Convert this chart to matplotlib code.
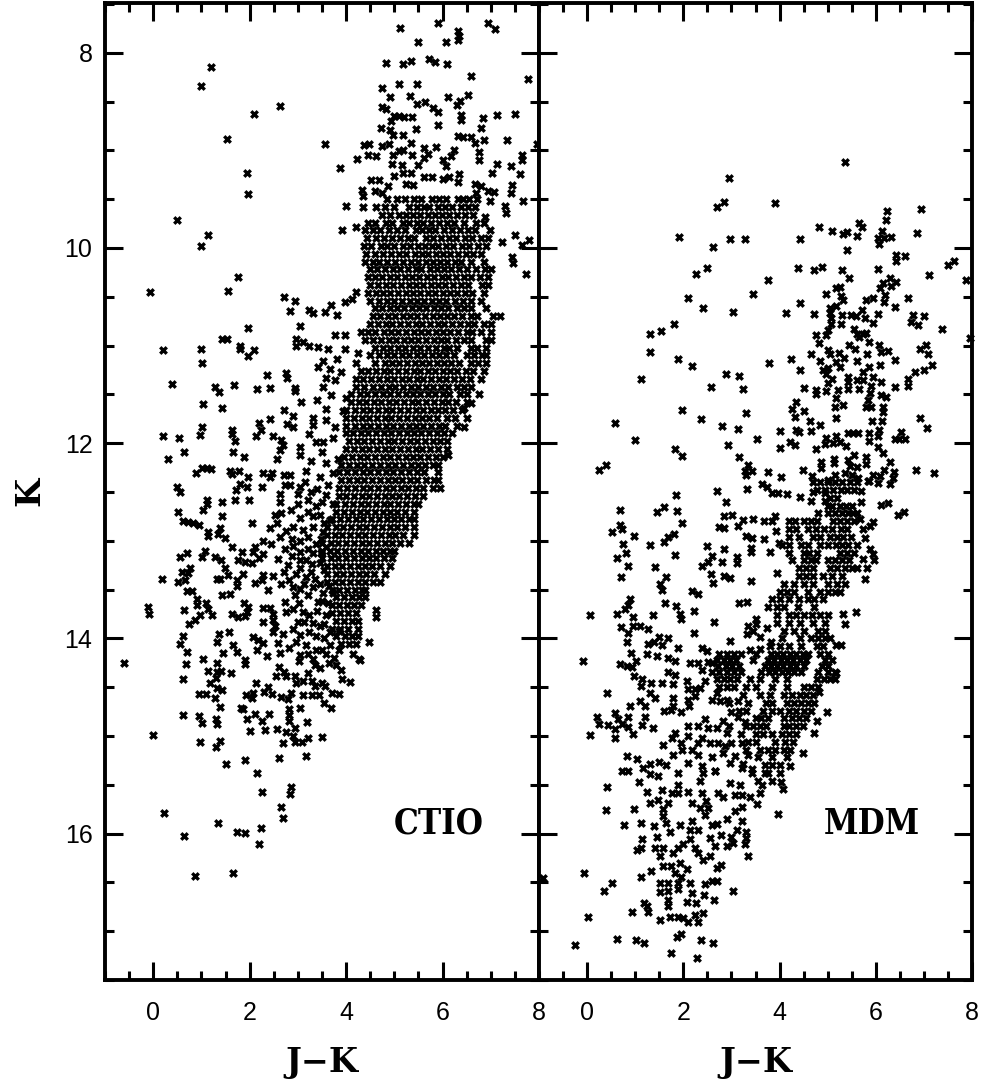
import matplotlib
matplotlib.use("Agg")
import matplotlib.pyplot as plt
from matplotlib.ticker import MultipleLocator

plt.rcParams['font.family'] = ['Liberation Sans', 'DejaVu Sans']

#scattered stars, J-K and K
ctio_upper = [(1.20,8.15),(.99,8.34),(2.63,8.55),(2.08,8.63),(1.52,8.88),(3.57,8.93),(1.94,9.23),(1.96,9.45),(3.88,9.18),(.50,9.71),
(1.13,9.87),(1.0,9.98),(4.0,9.57),(3.92,9.82),(4.2,9.78),(1.75,10.30),(1.56,10.44),(-.06,10.45),(2.71,10.50),(2.93,10.54),(2.84,10.65),
(3.23,10.64),(3.31,10.67),(3.56,10.66),(3.68,10.58),(3.81,10.69),(3.97,10.55),(4.12,10.52),(4.21,10.45),(3.04,10.80),(1.96,10.82),
(5.12,7.75),(5.90,7.70),(6.31,7.78),(6.34,7.83),(6.31,7.87),(6.95,7.69),(7.08,7.76),(5.50,7.89),(6.07,7.89),(4.83,8.10),(5.19,8.11),
(5.34,8.08),(5.71,8.06),(5.84,8.09),(6.09,8.12),(6.58,8.24),(7.78,8.27),(4.74,8.36),(4.90,8.45),(5.09,8.32),(5.46,8.32),(5.33,8.44),
(5.46,8.52),(5.63,8.50),(6.12,8.45),(6.52,8.43),(6.36,8.49),(6.29,8.54),(4.74,8.56),(4.83,8.58),(5.0,8.65),(5.10,8.65),(5.21,8.66),
(5.36,8.66),(5.81,8.57),(5.91,8.61),(6.38,8.64),(6.38,8.69),(6.84,8.67),(7.12,8.64),(7.5,8.63),(4.93,8.70),(4.72,8.77),(4.90,8.79),
(4.97,8.84),(5.19,8.84),(5.45,8.78),(5.90,8.74),(6.79,8.77),(6.31,8.85),(6.43,8.86),(6.60,8.86),(6.67,8.92),(6.86,8.89),(7.34,8.89),
(7.96,8.93),(4.37,8.94),(4.48,8.93),(4.75,8.96),(4.88,8.93),(5.34,8.92),(5.86,8.97),(6.76,9.02),(6.76,9.10),(7.65,9.05),(7.65,9.10),
(4.45,9.05),(4.61,9.06),(4.22,9.09),(4.97,9.05),(5.10,9.01),(5.19,9.0),(5.36,9.05),(5.62,8.98),(5.69,9.04),(5.62,9.08),(6.24,9.0),
(6.17,9.06),(6.0,9.10),(6.07,9.16),(4.95,9.14),(5.16,9.15),(5.50,9.15),(7.12,9.14),(7.42,9.16),(5.0,9.26),(5.17,9.23),(5.34,9.23),
(5.62,9.27),(5.79,9.27),(6.0,9.29),(6.14,9.27),(6.34,9.24),(6.31,9.32),(7.02,9.23),(7.60,9.24),(4.52,9.30),(4.68,9.30),(4.87,9.36),
(5.24,9.34),(5.38,9.35),(4.33,9.41),(4.59,9.42),(4.75,9.44),(6.67,9.34),(6.79,9.37),(6.69,9.44),(6.95,9.42),(7.07,9.43),(7.44,9.35),
(7.42,9.44),(7.67,9.52),(6.98,9.52),(7.29,9.57),(7.32,9.64),(4.36,9.47),(4.36,9.58),(6.87,9.68),(7.51,9.87),(7.79,9.92),(7.64,9.97),
(7.24,9.94),(7.44,10.09),(7.47,10.15),(7.73,10.27)]

ctio_left = [(.20,11.05),(.99,11.04),(1.01,11.18),(1.42,10.93),(1.54,10.93),(1.80,11.0),(1.80,11.04),(2.09,11.05),(1.97,11.11),(2.35,11.30),
(2.75,11.28),(2.77,11.33),(.38,11.39),(1.29,11.42),(1.36,11.48),(1.67,11.40),(2.16,11.44),(2.42,11.43),(2.93,11.43),(2.93,11.47),
(3.06,11.58),(1.04,11.60),(1.43,11.64),(3.40,11.56),(2.71,11.66),(2.90,11.72),(2.42,11.75),(2.20,11.79),(2.24,11.87),(2.78,11.80),
(2.89,11.83),(2.13,11.93),(1.01,11.83),(.97,11.92),(.21,11.93),(.54,11.95),(1.63,11.86),(1.63,11.91),(1.69,11.98),(2.49,11.93),
(2.66,11.97),(2.69,12.02),(2.62,12.07),(2.56,12.16),(.64,12.09),(1.66,12.09),(1.89,12.14),(.30,12.16),(1.01,12.25),(1.11,12.25),
(1.19,12.26),(.88,12.31),(1.59,12.28),(1.63,12.32),(1.78,12.29),(1.97,12.35),(2.28,12.31),(2.47,12.31),(2.42,12.35),(2.71,12.33),
(2.84,12.33),(2.73,12.43),(2.84,12.43),(1.80,12.42),(1.94,12.45),(1.71,12.48),(2.25,12.45),(.49,12.45),(.56,12.50),(1.11,12.58),
(1.11,12.62),(1.04,12.68),(1.43,12.60),(1.69,12.58),(1.98,12.58),(.52,12.70),(1.42,12.75),(.61,12.80),(.73,12.81),(.83,12.82),
(.94,12.84),(2.04,12.82),(1.14,12.91),(1.14,12.95),(1.38,12.87),(1.35,12.93),(1.49,12.97),(1.63,13.06),(2.28,13.0),(2.45,13.03),
(2.11,13.06),(2.07,13.11),(1.84,13.11),(1.08,13.10),(1.01,13.17),(.71,13.13),(.56,13.17),(1.28,13.17),(1.40,13.2),(1.75,13.2),
(1.91,13.22),(2.04,13.23),(2.20,13.18),(2.28,13.14),(2.59,13.19),(.76,13.28),(.59,13.32),(.73,13.33),(1.49,13.28),(1.38,13.39),
(1.56,13.35),(1.32,13.39),(1.87,13.34),(1.73,13.40),(1.73,13.46),(.18,13.39),(.51,13.42),(.66,13.40),(.71,13.51),(.80,13.51),
(1.42,13.56),(1.60,13.55),(2.28,13.35),(2.11,13.43),(2.25,13.40),(2.49,13.36),(2.64,13.44),(2.38,13.50),(.90,13.60),(.90,13.66),
(1.10,13.64),(1.14,13.70),(1.21,13.76),(.97,13.76),(.87,13.81),(.75,13.85),(.64,13.71),(-.11,13.68),(-.09,13.75),(1.63,13.75),
(1.76,13.78),(1.90,13.77),(1.88,13.64),(1.97,13.68),(1.94,13.73),(2.28,13.69),(2.42,13.69),(2.49,13.75),(2.28,13.83),(2.49,13.81),
(2.52,13.87),(2.49,13.93),(1.58,13.93),(.61,13.98),(.56,14.06),(1.36,13.95),(1.33,14.04),(2.06,13.99),(2.18,14.02),(2.28,14.05),
(2.16,14.12),(1.66,14.07),(1.74,14.14),(1.45,14.15),(.71,14.14),(1.04,14.21),(1.90,14.22),(2.36,14.18),(2.62,14.15),(2.69,13.95),
(2.59,14.05),(4.48,14.04),(6.76,11.50),(6.58,11.59),(6.45,11.64),(6.45,11.83),(6.12,12.12),(4.62,13.71),(4.61,13.78)]

ctio_middle = [(2.97,11.0),(3.11,10.96),(3.24,11.0),(3.42,11.01),(3.62,11.03),(2.97,10.93),(3.52,11.16),(3.42,11.22),(3.66,11.24),(3.59,11.33),
(3.82,11.14),(3.97,11.03),(3.76,10.89),(3.97,10.89),(4.24,11.08),(4.21,11.18),(3.90,11.27),(3.76,11.35),(3.52,11.42),(3.69,11.51),
(4.0,11.54),(3.59,11.65),(3.93,11.67),(3.31,11.74),(3.59,11.76),(3.76,11.83),(3.31,11.81),(3.24,11.91),(3.72,11.95),(3.38,11.99),
(3.52,11.99),(3.04,12.04),(3.04,12.12),(3.51,12.09),(3.28,12.18),(3.59,12.20),(3.83,12.16),(3.17,12.28),(3.73,12.31),(3.45,12.35),
(3.04,12.45),(3.0,12.52),(3.28,12.50),(3.59,12.53),(2.62,12.52),(2.62,12.60),(3.0,12.62),(3.38,12.64),(3.73,12.62),(2.52,12.74),
(2.66,12.72),(3.04,12.77),(3.21,12.70),(3.45,12.74),(3.66,12.79),(2.42,12.87),(2.56,12.82),(2.90,12.86),(3.11,12.89),(3.31,12.86),
(3.52,12.91),(2.62,12.96),(2.87,12.98),(3.04,13.0),(3.38,13.03),(3.59,13.06),(2.73,13.08),(3.04,13.11),(3.31,13.13),(3.04,13.2),
(2.80,13.25),(3.17,13.2),(3.45,13.23),(2.97,13.34),(3.17,13.37),(3.35,13.39),(2.90,13.47),(3.04,13.49),(3.31,13.47),(3.52,13.54),
(3.73,13.54),(3.42,13.63),(3.62,13.64),(2.73,13.63),(3.02,13.64),(2.76,13.73),(3.11,13.73),(3.24,13.76),(3.0,13.83),(2.90,13.90),
(3.24,13.93),(3.45,13.87),(3.66,13.93),(3.86,13.92),(2.97,14.04),(3.17,14.07),(3.38,14.12),(3.66,14.07),(3.04,14.17),(3.31,14.21),
(3.59,14.16),(3.86,14.12),(4.14,14.16),(4.27,14.21),
(3.15,12.4),(3.4,12.47),(3.62,12.43),(3.2,12.58),(3.5,12.6),(2.85,12.68),(3.32,12.75),(3.55,12.82),(2.75,12.9),(3.2,12.96),(3.48,12.98),
(2.9,13.05),(3.2,13.08),(3.48,13.12),(2.88,13.16),(3.3,13.24),(3.55,13.3),(2.72,13.32),(3.05,13.28),(3.28,13.32),(2.82,13.4),(3.12,13.44),
(3.45,13.44),(3.65,13.46),(2.95,13.56),(3.2,13.56),(3.5,13.62),(2.9,13.7),(3.4,13.72),(3.58,13.76),(3.12,13.83),(3.32,13.84),(3.55,13.85),
(3.05,13.97),(3.38,13.98),(3.55,14.0),(2.82,14.1),(3.5,14.12),(3.22,14.16),(3.75,14.2)]

ctio_lower = [(-.61,14.25),(.61,14.42),(.68,14.26),(1.14,14.33),(1.32,14.25),(1.32,14.34),(1.41,14.33),(1.62,14.35),(1.91,14.26),(1.18,14.46),
(1.31,14.41),(1.32,14.51),(1.43,14.53),(.94,14.57),(1.09,14.57),(1.29,14.61),(1.39,14.70),(.62,14.79),(.95,14.80),(1.02,14.87),
(1.31,14.83),(1.32,14.88),(-.01,14.99),(.98,15.06),(1.39,15.05),(1.31,15.11),(1.5,15.29),(1.91,15.25),(2.15,15.38),(2.25,15.57),
(2.86,15.52),(2.83,15.59),(2.64,15.73),(2.7,15.84),(.23,15.79),(1.34,15.89),(.63,16.02),(1.74,15.98),(1.91,15.99),(2.24,15.94),
(2.19,16.11),(.86,16.43),(1.66,16.40),(1.81,14.71),(1.86,14.72),(1.95,14.83),(2.01,14.95),(2.12,14.77),(2.25,14.85),(2.32,14.94),
(2.41,14.77),(2.56,14.93),(2.75,14.96),(2.70,15.07),(2.61,15.23),(3.16,15.21),(2.81,14.72),(2.81,14.78),(2.81,14.85),(2.93,14.92),
(2.89,15.0),(2.93,15.06),(3.09,15.06),(3.22,15.02),(3.5,15.01),(3.05,14.71),(3.18,14.86),(3.68,14.71),(3.54,14.66),(1.93,14.58),
(2.07,14.56),(2.04,14.61),(2.14,14.46),(2.29,14.55),(2.39,14.50),(2.46,14.57),(2.64,14.60),(2.79,14.62),(2.86,14.56),(3.11,14.58),
(3.29,14.58),(3.43,14.58),(3.71,14.56),(3.86,14.57),(2.93,14.39),(2.96,14.46),(3.11,14.44),(3.21,14.35),(3.29,14.44),(3.36,14.49),
(3.5,14.46),(3.57,14.49),(3.91,14.42),(4.09,14.45),(3.89,14.32),(3.79,14.27),(3.64,14.25),(3.46,14.30),(3.36,14.27),(2.61,14.29),
(2.71,14.34),(2.75,14.39),(2.54,14.39),(4.29,14.22),(3.02,14.23)]

#the black core of the CTIO branch, one K value with the J-K values read along it
ctio_core = [
(9.50,[4.85,5.05,5.22,5.41,5.55,5.78,5.93,6.08,6.33,6.42,6.55,6.72]),
(9.58,[4.62,4.8,5.0,5.3,5.46,5.62,5.71,5.9,6.05,6.2,6.38,6.52,6.68]),
(9.66,[4.75,4.9,5.1,5.24,5.39,5.53,5.69,5.85,5.98,6.14,6.29,6.47,6.63]),
(9.74,[4.46,4.6,4.82,4.95,5.17,5.31,5.48,5.6,5.77,5.92,6.09,6.24,6.44,6.7,6.85]),
(9.82,[4.4,4.55,4.7,4.88,5.06,5.22,5.44,5.57,5.72,5.84,6.02,6.2,6.37,6.52,6.68,6.98]),
(9.90,[4.44,4.62,4.78,4.95,5.12,5.28,5.4,5.66,5.8,5.96,6.13,6.28,6.46,6.62,6.8,6.95]),
(9.98,[4.38,4.52,4.72,4.85,5.0,5.18,5.33,5.5,5.63,5.78,5.91,6.08,6.22,6.41,6.55,6.73,6.9]),
(10.06,[4.42,4.6,4.76,4.93,5.1,5.25,5.42,5.58,5.7,5.86,6.0,6.16,6.33,6.48,6.64,6.8]),
(10.14,[4.4,4.56,4.68,4.84,5.02,5.17,5.35,5.49,5.65,5.8,5.94,6.1,6.25,6.39,6.58,6.85]),
(10.22,[4.5,4.65,4.8,4.97,5.12,5.28,5.44,5.56,5.73,5.88,6.04,6.18,6.35,6.5,6.7,6.88,7.0]),
(10.30,[4.45,4.6,4.74,4.9,5.06,5.22,5.37,5.52,5.68,5.83,5.98,6.12,6.28,6.44,6.6,6.78,6.95]),
(10.38,[4.5,4.66,4.82,4.98,5.14,5.3,5.45,5.6,5.76,5.9,6.06,6.22,6.38,6.53,6.82,6.95]),
(10.46,[4.45,4.62,4.76,4.92,5.08,5.24,5.39,5.54,5.7,5.84,6.0,6.15,6.3,6.47,6.62,6.85]),
(10.54,[4.5,4.68,4.84,5.0,5.16,5.32,5.47,5.62,5.78,5.92,6.08,6.26,6.42,6.58,6.8]),
(10.62,[4.6,4.74,4.9,5.05,5.2,5.36,5.52,5.66,5.82,5.97,6.12,6.29,6.45,6.6,6.9]),
(10.70,[4.55,4.7,4.86,5.02,5.18,5.33,5.48,5.64,5.8,5.94,6.1,6.24,6.4,6.58,6.72,7.05,7.2]),
(10.78,[4.5,4.66,4.82,4.96,5.12,5.28,5.44,5.58,5.74,5.9,6.04,6.2,6.36,6.52,6.66,6.85,7.0]),
(10.86,[4.3,4.45,4.6,4.78,4.93,5.08,5.24,5.4,5.55,5.7,5.86,6.0,6.16,6.32,6.5,6.62,6.8,7.0]),
(10.94,[4.4,4.56,4.72,4.88,5.04,5.2,5.35,5.5,5.66,5.82,5.96,6.1,6.28,6.44,6.6,6.9,7.0]),
(11.02,[4.6,4.76,4.92,5.08,5.22,5.38,5.54,5.7,5.86,6.02,6.14,6.3,6.58,6.72,6.9]),
(11.10,[4.5,4.68,4.84,5.0,5.16,5.3,5.46,5.62,5.78,5.92,6.08,6.24,6.5,6.66,6.82,6.9]),
(11.18,[4.6,4.8,4.95,5.1,5.26,5.42,5.58,5.72,5.88,6.04,6.18,6.34,6.6,6.74,6.9]),
(11.26,[4.3,4.46,4.62,4.78,4.92,5.08,5.24,5.4,5.54,5.7,5.85,6.0,6.16,6.3,6.48,6.64,6.85]),
(11.34,[4.2,4.36,4.52,4.68,4.84,5.0,5.16,5.3,5.46,5.6,5.76,5.92,6.08,6.24,6.4,6.56,6.8]),
(11.42,[4.2,4.38,4.56,4.72,4.88,5.02,5.18,5.34,5.5,5.66,5.8,5.96,6.12,6.3,6.45,6.6]),
(11.50,[4.1,4.28,4.44,4.6,4.76,4.92,5.08,5.24,5.38,5.54,5.7,5.84,6.0,6.14,6.36,6.5]),
(11.58,[4.1,4.26,4.42,4.58,4.72,4.88,5.04,5.2,5.36,5.5,5.66,5.82,5.98,6.12,6.28,6.5]),
(11.66,[4.0,4.18,4.34,4.5,4.66,4.82,4.96,5.12,5.28,5.44,5.6,5.76,5.9,6.06,6.22,6.4]),
(11.74,[4.0,4.16,4.32,4.48,4.64,4.8,4.94,5.1,5.26,5.42,5.58,5.72,5.88,6.1,6.26,6.5]),
(11.82,[4.0,4.18,4.34,4.5,4.66,4.82,4.98,5.14,5.3,5.44,5.6,5.76,5.92,6.06,6.3]),
(11.90,[4.0,4.14,4.3,4.46,4.62,4.78,4.94,5.1,5.26,5.4,5.56,5.72,5.88,6.04,6.2]),
(11.98,[4.05,4.22,4.38,4.54,4.7,4.86,5.0,5.16,5.32,5.48,5.64,5.8,5.94,6.1]),
(12.06,[4.0,4.16,4.32,4.48,4.64,4.8,4.96,5.12,5.28,5.44,5.58,5.74,5.9,6.1]),
(12.14,[3.95,4.12,4.28,4.44,4.6,4.76,4.92,5.08,5.24,5.38,5.54,5.7,5.86,6.0]),
(12.22,[3.9,4.06,4.22,4.38,4.54,4.7,4.86,5.02,5.18,5.34,5.5,5.64,5.8,5.9]),
(12.30,[3.85,4.02,4.18,4.34,4.5,4.66,4.82,4.98,5.14,5.3,5.46,5.62,5.9]),
(12.38,[3.9,4.06,4.22,4.38,4.54,4.7,4.86,5.02,5.16,5.32,5.48,5.66,5.82,5.9]),
(12.46,[3.85,4.02,4.18,4.34,4.5,4.66,4.82,4.98,5.14,5.28,5.44,5.6,5.8,5.95]),
(12.54,[3.85,4.0,4.16,4.32,4.48,4.64,4.8,4.96,5.1,5.26,5.42,5.6]),
(12.62,[3.8,3.98,4.14,4.3,4.46,4.62,4.78,4.92,5.08,5.24,5.4,5.5]),
(12.70,[3.8,3.96,4.12,4.28,4.44,4.6,4.76,4.92,5.06,5.22,5.4]),
(12.78,[3.7,3.88,4.04,4.2,4.36,4.52,4.68,4.84,5.0,5.14,5.3,5.4]),
(12.86,[3.6,3.78,3.94,4.1,4.26,4.42,4.58,4.74,4.9,5.06,5.22,5.4]),
(12.94,[3.6,3.76,3.92,4.08,4.24,4.4,4.56,4.72,4.88,5.02,5.18,5.4]),
(13.02,[3.5,3.68,3.84,4.0,4.16,4.32,4.48,4.64,4.8,4.96,5.12,5.3]),
(13.10,[3.5,3.66,3.82,3.98,4.14,4.3,4.46,4.62,4.76,4.9,5.0]),
(13.18,[3.5,3.68,3.84,4.0,4.16,4.32,4.48,4.62,4.78,4.95]),
(13.26,[3.6,3.76,3.92,4.08,4.24,4.4,4.54,4.7,4.9]),
(13.34,[3.6,3.78,3.94,4.1,4.26,4.42,4.58,4.8]),
(13.42,[3.6,3.76,3.92,4.08,4.24,4.4,4.56,4.7]),
(13.50,[3.7,3.86,4.02,4.18,4.32,4.4]),
(13.58,[3.8,3.96,4.12,4.26,4.4]),
(13.66,[3.7,3.86,4.02,4.16,4.3]),
(13.74,[3.7,3.88,4.04,4.2]),
(13.82,[3.8,3.96,4.12,4.25]),
(13.90,[3.7,3.88,4.04,4.25]),
(13.98,[3.8,3.98,4.12,4.25]),
(14.06,[3.9,4.06,4.2])]

#scattered stars of the MDM panel
mdm_upper = [(5.37,9.12),(2.95,9.28),(2.85,9.53),(2.71,9.58),(3.91,9.54),(6.93,9.60),(6.23,9.62),(6.21,9.71),(5.65,9.74),(5.72,9.79),(4.81,9.79),
(5.10,9.83),(5.32,9.86),(5.40,9.84),(5.62,9.88),(6.13,9.83),(6.04,9.90),(6.07,9.96),(6.18,9.90),(6.32,9.89),(6.85,9.85),(1.91,9.89),
(2.98,9.91),(3.28,9.91),(4.42,9.91),(2.61,9.99),(5.40,10.02),(6.42,10.07),(6.60,10.08),(6.41,10.13),(2.50,10.21),(2.26,10.27),(4.38,10.20),
(4.72,10.23),(4.88,10.19),(5.30,10.23),(6.04,10.22),(7.50,10.17),(7.63,10.13),(7.10,10.28),(7.87,10.33),(3.76,10.33),(5.44,10.31),(3.44,10.47),
(2.09,10.51),(2.41,10.62),(3.04,10.66),(4.42,10.56),(4.14,10.67),(4.72,10.68),(6.29,10.31),(6.41,10.35),(6.15,10.36),(6.31,10.39),(6.08,10.41),
(6.20,10.48),(6.18,10.55),(5.94,10.51),(5.80,10.53),(6.68,10.51),(6.40,10.60),(5.25,10.40),(5.18,10.41),(4.96,10.47),(5.28,10.49),(5.32,10.53),
(5.18,10.59),(5.04,10.62),(5.04,10.67),(5.06,10.72),(5.30,10.69),(5.49,10.69),(5.58,10.70),(5.71,10.64),(5.78,10.72),(6.04,10.68),(5.95,10.77),
(6.77,10.69),(6.74,10.76),(6.87,10.79),(7.0,10.70),(7.38,10.83),(7.95,10.92),(1.81,10.78),(1.54,10.85),(1.31,10.88),(1.30,11.07),(1.89,11.14),
(2.19,11.21),(1.12,11.34),(2.57,11.42),(2.88,11.29),(3.15,11.31),(3.25,11.44),(3.78,11.18),(4.23,11.14),(4.42,11.25),(4.65,11.09),(4.50,11.43),
(4.76,11.45),(4.76,11.50),(4.97,11.47),(4.84,11.16),(5.06,10.78),(5.0,10.84),(4.97,10.89),(4.76,10.89),(4.83,10.97),(5.27,10.78),(5.55,10.83),
(5.60,10.88),(5.66,10.91),(5.80,10.87),(5.73,10.88),(5.86,10.96),(6.07,10.99),(5.44,10.99),(5.56,11.03),(5.01,11.05),(5.04,11.09),(5.23,11.08),
(5.18,11.17),(5.34,11.13),(5.25,11.22),(5.60,11.16),(5.82,11.09),(6.11,11.07),(6.25,11.06),(6.39,11.15),(6.08,11.20),(5.86,11.22),(5.73,11.27),
(6.92,11.04),(7.05,10.99),(7.08,11.09),(7.16,11.20),(7.0,11.25),(6.82,11.27),(6.67,11.34),(6.68,11.41),(6.39,11.42),(4.90,11.25),(5.01,11.23),
(4.97,11.29),(5.08,11.34),(5.01,11.38),(5.42,11.32),(5.42,11.37),(5.42,11.44),(5.60,11.35),(5.66,11.44),(5.73,11.35),(5.94,11.32),(6.11,11.37),
(5.91,11.41),(5.87,11.49),(5.21,11.46),(5.18,11.54),(5.15,11.63),(5.32,11.61),(6.11,11.51),(6.22,11.53),(6.15,11.63),(6.15,11.68),(5.84,11.56),
(5.80,11.63),(5.91,11.63),(5.18,11.74),(5.92,11.77),(6.13,11.77),(6.07,11.87),(6.05,11.93),(5.86,11.90),(5.86,11.98),(6.53,11.89),(6.39,11.96),
(6.49,11.96),(6.61,11.96),(6.91,11.74),(7.07,11.84),(1.98,11.66),(2.37,11.75),(2.80,11.82),(3.13,11.85),(3.30,11.69),(.57,11.79),(1.0,11.97),
(1.82,12.06),(1.97,12.13),(.40,12.22),(.24,12.27),(2.92,12.02),(3.53,11.96),(4.01,11.88),(4.0,12.05),(3.16,12.14),(3.35,12.22),(3.28,12.28),
(3.42,12.28),(3.30,12.33),(3.75,12.30),(4.02,12.35),(4.34,11.58),(4.25,11.65),(4.51,11.67),(4.33,11.73),(4.64,11.77),(4.85,11.81),(4.34,11.87),
(4.41,11.89),(4.65,11.88),(4.21,11.99),(4.33,12.02),(4.75,12.06),(4.49,12.27),(4.68,12.34),(4.97,11.95),(4.95,12.01),(5.18,11.93),(5.11,12.0),
(5.25,11.99),(5.39,12.03),(4.87,12.19),(4.87,12.25),(5.13,12.16),(5.13,12.2),(5.42,12.17),(5.55,12.12),(5.46,12.23),(5.60,12.24),(5.80,12.14),
(5.79,12.21),(6.04,12.04),(6.16,12.1),(6.29,12.19),(6.18,12.27),(6.37,12.30),(6.36,12.36),(6.84,12.27),(7.2,12.31),(5.15,12.33),(5.36,12.31),
(5.50,12.33),(5.94,12.33),(6.08,12.34),(5.01,12.38),(5.64,12.36),(5.84,12.39),(5.42,11.90),(5.53,11.9),(5.63,11.9)]

mdm_middle = [(2.71,12.49),(3.33,12.47),(1.84,12.53),(2.88,12.60),(3.64,12.42),(3.73,12.45),(3.85,12.51),(3.97,12.51),(4.16,12.52),(4.42,12.55),
(.68,12.68),(1.60,12.65),(1.46,12.71),(1.87,12.69),(1.98,12.82),(.68,12.84),(.72,12.88),(.51,12.91),(.98,12.95),(.74,13.03),(1.31,13.04),
(1.60,13.01),(1.69,12.96),(1.81,12.93),(.80,13.12),(.62,13.18),(.84,13.26),(.70,13.37),(1.41,13.27),(1.83,13.15),(1.65,13.37),(1.51,13.44),
(1.55,13.50),(2.19,13.51),(2.30,13.55),(.89,13.60),(.84,13.66),(.79,13.70),(1.62,13.64),(1.85,13.67),(1.93,13.75),(1.96,13.80),(2.22,13.72),
(1.36,13.76),(.05,13.76),(.62,13.75),(.95,13.78),(.71,13.88),(.96,13.87),(1.10,13.87),(1.27,13.90),(.86,13.94),(2.64,13.83),(2.23,13.94),
(2.85,12.75),(3.02,12.74),(3.25,12.79),(3.45,12.78),(3.67,12.80),(3.85,12.80),(3.91,12.75),(3.14,12.85),(2.75,12.86),(2.85,12.87),(3.31,12.95),
(3.42,12.97),(3.67,12.98),(3.92,12.90),(3.99,13.02),(2.49,13.05),(2.85,13.08),(3.40,13.07),(3.40,13.11),(3.80,13.11),(2.59,13.16),(2.52,13.22),
(2.38,13.26),(2.81,13.22),(3.11,13.17),(3.11,13.23),(2.57,13.34),(2.62,13.43),(2.85,13.36),(2.98,13.38),(3.40,13.41),(3.95,13.33),(3.16,13.64),
(3.33,13.63),(2.97,14.03),(3.38,14.12),(3.60,14.11),(3.35,13.87),(3.50,13.80),(3.52,13.85),(3.74,13.89),(3.33,13.96),(3.45,13.92),(3.60,13.99),
(3.83,14.04),(1.49,13.99),(1.69,14.0),(1.27,14.06),(1.38,14.04),(1.55,14.07),(.83,14.04),(1.89,14.1),(1.24,14.16),(1.45,14.18),(.91,14.15),
(1.69,14.2),(1.83,14.23),(2.38,14.10),(2.50,14.13),(-.08,14.23),(.68,14.26),(.82,14.28),(.93,14.29),(1.01,14.23),(2.14,14.25),(2.31,14.25),
(2.52,14.24),(2.59,14.25),(1.69,14.34),(1.83,14.37),(.98,14.39),(1.15,14.42),(1.13,14.49),(1.32,14.46),(1.55,14.46),(1.79,14.47),(2.08,14.44),
(2.38,14.32),(2.59,14.34),(2.45,14.44),(.42,14.56),(1.31,14.56),(1.41,14.61),(2.10,14.52),(2.24,14.52),(2.34,14.51),(2.24,14.59),(2.10,14.63),
(1.79,14.61),(1.10,14.64),(1.21,14.69),(.89,14.69),(1.79,14.69),(1.60,14.74),(1.75,14.73),(1.96,14.75),(2.12,14.69),(.21,14.81),(.25,14.88),
(.43,14.89),(.58,14.76),(.65,14.83),(.84,14.81),(.72,14.88),(.58,14.93),(.86,14.91),(.58,15.02),(.05,14.99),(.95,14.98),(1.20,14.81),(1.15,14.89),
(1.36,14.92),(2.69,14.56),(2.59,14.63),(2.76,14.64),(2.90,14.63),(3.14,14.64),(3.0,14.75),(3.14,14.81),(3.28,14.86),(2.45,14.83),(2.31,14.90),
(2.10,14.90),(2.52,14.92),(2.83,14.85),(2.69,14.92),(2.90,14.97),(1.83,14.97),(1.76,15.02),(1.58,15.09),(2.10,15.0),(1.96,15.07),(1.98,15.14),
(2.31,15.07),(2.38,15.02),(2.55,15.07),(2.72,15.07),(2.86,15.10),(3.0,15.07),(3.21,15.07),(1.79,15.19),(2.17,15.14),(2.31,15.19),(2.59,15.22),
(2.83,15.17),(3.07,15.21),(2.97,15.28),(2.10,15.28),(2.38,15.31),(.82,15.21),(1.03,15.24),(1.17,15.33),(1.31,15.29),(1.49,15.27),(1.65,15.30),
(.73,15.36),(.86,15.36),(1.31,15.39),(1.48,15.41),(1.89,15.38),(2.66,15.36),(2.41,15.38),(3.35,15.19),(3.24,15.29),(3.42,15.34),(4.49,15.17),
(4.21,15.31),(4.72,14.97),(4.78,14.85),(4.99,14.75),(4.82,14.55),(5.15,14.42),(5.18,14.35),(4.70,12.5),(4.66,12.59),(4.94,12.51),(4.94,12.59),
(5.70,12.49),(5.70,12.60),(5.86,12.39),(6.04,12.41),(6.29,12.42),(6.10,12.63),(6.25,12.61),(6.47,12.74),(6.58,12.70),(5.68,12.78),(5.94,12.81),
(5.87,12.85),(5.73,12.88),(5.77,12.97),(5.89,13.08),(5.94,13.14),(5.96,13.2),(5.73,13.19),(5.82,13.28),(5.78,13.39),(5.58,13.73),(5.32,13.75),
(5.37,13.85),(5.28,14.07),(5.18,14.07)]

mdm_lower = [(.41,15.52),(.39,15.76),(.98,15.75),(.76,15.91),(1.12,15.89),(1.31,15.69),(1.24,15.57),(1.08,15.47),(1.40,15.92),(1.45,16.03),(1.15,16.06),
(1.13,16.15),(1.03,16.17),(1.41,16.15),(1.58,16.15),(1.51,16.23),(1.33,16.38),(1.13,16.44),(1.58,16.33),(1.74,16.33),(1.83,16.40),(-.06,16.40),
(.51,16.51),(.36,16.59),(-.92,16.46),(1.51,16.51),(1.69,16.51),(1.51,16.60),(1.69,16.59),(1.69,16.68),(1.69,16.74),(1.72,16.85),(1.51,16.89),
(.93,16.80),(1.19,16.71),(1.24,16.74),(1.27,16.80),(.01,16.85),(-.25,17.14),(.63,17.08),(1.02,17.09),(1.18,17.12),(1.74,17.22),(1.86,17.06),
(1.96,17.03),(2.36,17.09),(2.62,17.12),(2.29,17.27),(1.89,16.85),(2.0,16.86),(2.10,16.91),(2.31,16.91),(2.24,16.83),(2.41,16.81),(2.27,16.71),
(2.07,16.70),(2.17,16.61),(2.43,16.63),(2.63,16.68),(3.04,16.59),(1.89,16.51),(1.89,16.57),(2.14,16.51),(2.45,16.52),(2.59,16.49),(2.69,16.49),
(1.96,16.44),(2.08,16.36),(1.93,16.30),(1.79,16.20),(1.89,16.15),(2.0,16.11),(2.14,16.06),(2.24,16.15),(2.31,16.20),(2.41,16.27),(2.55,16.23),
(2.69,16.35),(2.79,16.32),(2.66,16.13),(2.90,16.13),(3.04,16.10),(3.0,16.03),(3.11,15.96),(3.31,15.98),(3.31,16.04),(3.28,16.11),(3.35,16.23),
(2.55,16.04),(2.79,16.01),(2.31,15.96),(2.14,15.96),(1.93,15.91),(2.17,15.87),(2.59,15.91),(2.69,15.90),(2.90,15.85),(3.21,15.87),(3.07,15.77),
(3.21,15.73),(3.54,15.70),(3.59,15.58),(3.96,15.80),(4.02,15.47),(4.07,15.54),(1.58,15.82),(1.65,15.89),(1.72,15.98),(1.58,15.75),(1.48,15.66),
(1.69,15.69),(1.76,15.58),(1.89,15.58),(2.10,15.57),(2.17,15.69),(2.34,15.74),(2.45,15.81),(2.38,15.58),(2.48,15.67),(2.52,15.74),(2.72,15.58),
(2.83,15.62),(3.07,15.60),(3.21,15.60),(3.38,15.62),(2.97,15.48),(3.18,15.50),(1.55,15.55),(1.89,15.50),(2.34,15.46),(2.66,15.36),(3.63,15.50),
(3.69,15.38),(3.42,15.38),(3.21,15.33)]

#denser part of the MDM branch, including the clumps near K=14.3
mdm_core = [
(12.40,[4.7,4.85,5.0,5.15,5.3,5.46,5.62]),
(12.48,[4.78,4.95,5.12,5.28,5.4,5.55]),
(12.56,[5.05,5.2]),
(12.64,[5.0,5.1,5.25,5.38,5.5]),
(12.72,[4.8,5.0,5.15,5.3,5.42,5.52,5.6]),
(12.80,[4.2,4.32,4.5,4.65,4.78,5.12,5.25,5.4,5.55]),
(12.88,[4.2,4.35,4.6,4.75,4.92,5.1,5.28,5.4]),
(12.96,[4.2,4.4,4.7,4.85,5.05,5.2,5.32,5.48]),
(13.04,[4.05,4.2,4.45,4.6,4.85,5.0,5.18,5.3,5.42,5.6]),
(13.12,[4.2,4.5,4.62,4.78,5.25,5.4,5.55]),
(13.20,[4.25,4.5,4.65,4.75,5.0,5.15,5.3,5.45]),
(13.28,[4.4,4.55,4.7,5.05,5.2,5.35,5.5,5.6]),
(13.36,[4.4,4.55,4.7,4.9,5.1,5.3]),
(13.44,[4.1,4.3,4.5,4.7,5.0,5.2,5.35]),
(13.52,[4.0,4.15,4.3,4.6,4.85,5.0,5.15,5.25]),
(13.60,[3.85,4.0,4.2,4.4,4.6,4.72,4.9]),
(13.68,[3.75,3.95,4.1,4.38,4.72]),
(13.76,[3.95,4.2,4.35,4.5,4.68,4.85,5.0]),
(13.84,[3.95,4.2,4.42,4.7,4.95]),
(13.92,[4.1,4.3,4.5,4.8,4.95]),
(14.00,[4.05,4.42,4.65,4.8,4.95,5.05]),
(14.08,[3.8,4.0,4.2,4.45,4.78,4.9]),
(14.16,[2.75,2.9,3.05,3.2,3.5,3.82,3.95,4.08,4.22,4.35,4.48,4.6,4.85,5.0]),
(14.22,[2.7,2.85,2.98,3.1,3.45,3.75,3.88,4.02,4.15,4.28,4.42,4.55,4.95,5.1]),
(14.28,[2.72,2.88,3.02,3.15,3.7,3.82,3.95,4.08,4.22,4.35,4.5,4.88,5.0]),
(14.34,[2.75,2.9,3.05,3.2,3.62,3.78,3.9,4.05,4.18,4.3,4.45,4.8,5.0,5.15]),
(14.42,[2.7,2.85,2.98,3.12,3.38,3.6,3.9,4.15,4.78,4.92,5.05]),
(14.50,[2.75,2.9,3.05,3.3,3.5,3.85,4.15,4.5,4.65,4.8]),
(14.58,[3.25,3.6,3.8,4.1,4.25,4.42,4.55,4.7]),
(14.66,[2.95,3.35,3.72,3.85,4.15,4.3,4.45,4.6,4.72]),
(14.74,[3.15,3.3,3.65,3.85,4.0,4.2,4.35,4.5,4.65]),
(14.82,[3.5,3.62,3.75,4.1,4.25,4.4,4.55]),
(14.90,[2.95,3.3,3.45,3.6,3.72,4.1,4.2,4.35,4.48]),
(14.98,[3.2,3.5,3.65,3.85,4.05,4.2,4.35]),
(15.06,[3.35,3.5,3.9,4.12,4.28]),
(15.14,[3.3,3.6,3.75,3.9,4.1,4.22]),
(15.22,[3.55,3.85,4.15]),
(15.30,[3.7,3.85,4.0]),
(15.38,[3.75,4.0]),
(15.46,[3.55,3.85])]

panel_names = ["CTIO", "MDM"]
tick_values = [0, 2, 4, 6, 8]
k_ticks = [8, 10, 12, 14, 16]

def split_stars(pairs, rows):
    #pairs are (J-K, K), rows are (K, [J-K, ...])
    jk = [p[0] for p in pairs]
    k = [p[1] for p in pairs]
    for row_k, row_jk in rows:
        jk += row_jk
        k += [row_k] * len(row_jk)
    return jk, k

ctio_jk, ctio_k = split_stars(ctio_upper + ctio_left + ctio_middle + ctio_lower, ctio_core)
mdm_jk, mdm_k = split_stars(mdm_upper + mdm_middle + mdm_lower, mdm_core)

fig = plt.figure(figsize=(9.84, 10.8), dpi=100)
ax1 = fig.add_axes([105/984, 100/1080, 434/984, 977/1080])
ax2 = fig.add_axes([539/984, 100/1080, 433/984, 977/1080])

for ax, jk, k, name in zip([ax1, ax2], [ctio_jk, mdm_jk], [ctio_k, mdm_k], panel_names):
    ax.scatter(jk, k, marker='x', s=22, linewidths=2.4, color='black', clip_on=False)
    ax.set_xlim(-1, 8)
    ax.set_ylim(17.5, 7.49)
    ax.set_xticks(tick_values)
    ax.set_yticks(k_ticks)
    ax.xaxis.set_minor_locator(MultipleLocator(0.5))
    ax.yaxis.set_minor_locator(MultipleLocator(0.5))
    ax.tick_params(which='major', direction='in', length=13, width=2.2, top=True, right=True, labelsize=18, pad=15)
    ax.tick_params(which='minor', direction='in', length=6.5, width=2.2, top=True, right=True)
    for s in ax.spines.values():
        s.set_linewidth(2.8)
    ax.text(5.92, 15.9, name, fontsize=25, fontweight='bold', family='DejaVu Serif', stretch='condensed', ha='center', va='center')
    ax.set_xlabel("J\u2212K", fontsize=24, fontweight='bold', family='DejaVu Serif', labelpad=15)

ax1.set_ylabel("K", fontsize=24, fontweight='bold', family='DejaVu Serif', labelpad=13)
ax1.tick_params(axis='y', which='major', pad=9)
ax2.tick_params(axis='y', labelleft=False)

fig.savefig("out.png", dpi=100)
